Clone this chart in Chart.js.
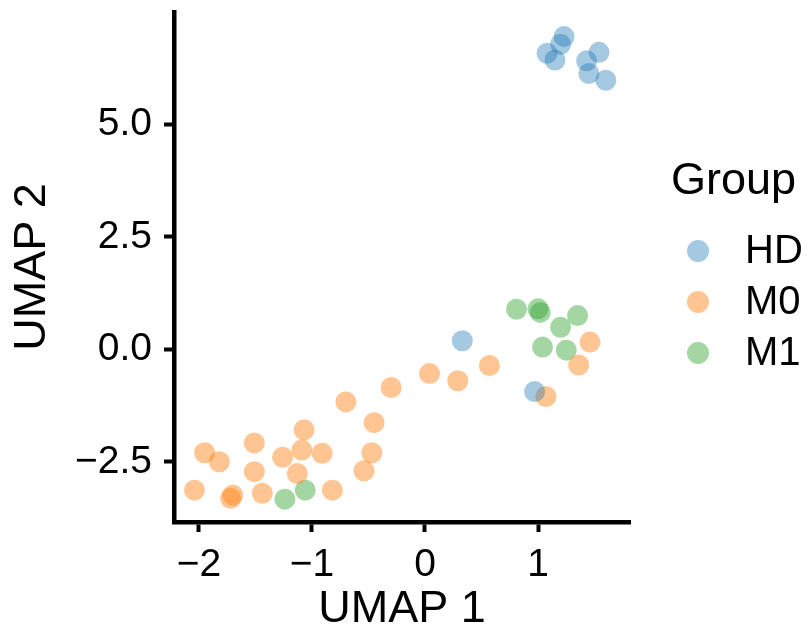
<!DOCTYPE html>
<html>
<head>
<meta charset="utf-8">
<script src="https://cdn.jsdelivr.net/npm/chart.js@4"></script>
<style>
  html, body { margin: 0; padding: 0; background: #fff; }
  #wrap { width: 808px; height: 629px; }
</style>
</head>
<body>
<div id="wrap"><canvas id="umapPlot" width="808" height="629"></canvas></div>
<script>
// UMAP embedding, one pair of arrays per group
var groups = ['HD', 'M0', 'M1'];

var hdX = [1.23, 1.20, 1.08, 1.15, 1.54, 1.43, 1.45, 1.60, 0.33, 0.97];
var hdY = [6.95, 6.78, 6.58, 6.43, 6.60, 6.41, 6.13, 5.98, 0.19, -0.94];

var m0X = [1.46, 1.36, 1.07, 0.57, 0.29, 0.04, -0.30, -0.70, -0.45, -1.07, -1.51, -1.95, -1.82,
           -1.26, -1.09, -0.91, -0.47, -0.54, -1.13, -1.51, -2.04, -1.70, -1.72, -1.44, -0.82];
var m0Y = [0.16, -0.35, -1.05, -0.36, -0.70, -0.54, -0.85, -1.17, -1.63, -1.79, -2.08, -2.30, -2.50,
           -2.40, -2.24, -2.31, -2.30, -2.70, -2.76, -2.72, -3.13, -3.24, -3.31, -3.20, -3.13];

var m1X = [0.81, 1.00, 1.02, 1.35, 1.20, 1.04, 1.25, -1.24, -1.06];
var m1Y = [0.89, 0.90, 0.82, 0.75, 0.49, 0.05, -0.02, -3.33, -3.13];

var xTicks = [-2, -1, 0, 1];
var yTicks = [-2.5, 0, 2.5, 5];

var groupColors = ['rgba(31, 119, 180, 0.40)', 'rgba(255, 127, 14, 0.45)', 'rgba(44, 160, 44, 0.43)'];

var FONT = '"Liberation Sans", Arial, sans-serif';

function toPoints(xs, ys) {
    return xs.map(function (x, i) { return { x: x, y: ys[i] }; });
}

function minusSign(s) {
    return s.replace('-', '\u2212');
}

var seriesX = [hdX, m0X, m1X];
var seriesY = [hdY, m0Y, m1Y];

var datasets = groups.map(function (g, i) {
    return {
        label: g,
        data: toPoints(seriesX[i], seriesY[i]),
        backgroundColor: groupColors[i],
        borderWidth: 0,
        pointRadius: 10.5,
        pointHoverRadius: 10.5
    };
});

// legend on the right: title plus one dot per group
var groupLegend = {
    id: 'groupLegend',
    afterDraw: function (chart) {
        var ctx = chart.ctx;
        ctx.save();
        ctx.fillStyle = '#000';
        ctx.textAlign = 'left';
        ctx.textBaseline = 'middle';
        ctx.font = '45px ' + FONT;
        ctx.fillText('Group', 671, 182);
        var rowY = [251, 302, 353];
        chart.data.datasets.forEach(function (ds, i) {
            ctx.beginPath();
            ctx.arc(698, rowY[i], 11, 0, Math.PI * 2);
            ctx.fillStyle = ds.backgroundColor;
            ctx.fill();
            ctx.fillStyle = '#000';
            ctx.font = '40px ' + FONT;
            ctx.fillText(ds.label, 745, rowY[i] + 1);
        });
        ctx.restore();
    }
};

// keep the plot panel where it is: no extra room for half tick labels
function fixPadding(scale) {
    scale.paddingTop = 0;
    scale.paddingBottom = 0;
    scale.paddingLeft = 0;
    scale.paddingRight = 0;
}

var ctx = document.getElementById('umapPlot').getContext('2d');

var chart = new Chart(ctx, {
    type: 'scatter',
    data: { datasets: datasets },
    options: {
        responsive: false,
        animation: false,
        layout: { padding: { top: 12, right: 178, bottom: 0, left: 0 } },
        plugins: {
            legend: { display: false },
            tooltip: { enabled: false }
        },
        scales: {
            x: {
                min: -2.221,
                max: 1.814,
                afterBuildTicks: function (scale) {
                    scale.ticks = xTicks.map(function (v) { return { value: v }; });
                },
                afterFit: function (scale) { scale.height = 107; fixPadding(scale); },
                border: { display: true, color: '#000', width: 4.5 },
                grid: { drawOnChartArea: false, drawTicks: true, tickLength: 10, tickWidth: 4, tickColor: '#000' },
                ticks: {
                    color: '#000',
                    padding: 10,
                    maxRotation: 0,
                    font: { family: FONT, size: 39 },
                    callback: function (v) { return minusSign(String(v)); }
                },
                title: {
                    display: true,
                    text: 'UMAP 1',
                    color: '#000',
                    font: { family: FONT, size: 45 },
                    padding: { top: 0, bottom: -8 }
                }
            },
            y: {
                min: -3.838,
                max: 7.496,
                afterBuildTicks: function (scale) {
                    scale.ticks = yTicks.map(function (v) { return { value: v }; });
                },
                afterFit: function (scale) { scale.width = 174; fixPadding(scale); },
                border: { display: true, color: '#000', width: 4.5 },
                grid: { drawOnChartArea: false, drawTicks: true, tickLength: 10, tickWidth: 4, tickColor: '#000' },
                ticks: {
                    color: '#000',
                    padding: 12,
                    font: { family: FONT, size: 39 },
                    callback: function (v) { return minusSign(Number(v).toFixed(1)); }
                },
                title: {
                    display: true,
                    text: 'UMAP 2',
                    color: '#000',
                    font: { family: FONT, size: 45 },
                    padding: { top: 5.5, bottom: 0 }
                }
            }
        }
    },
    plugins: [groupLegend]
});
</script>
</body>
</html>
